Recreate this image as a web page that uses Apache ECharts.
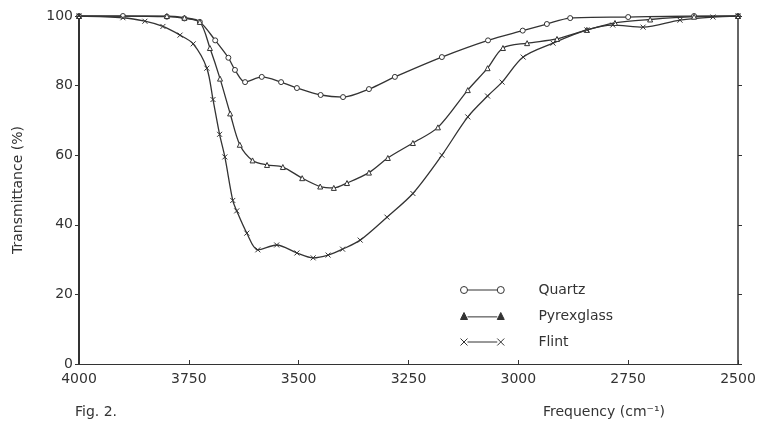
<!DOCTYPE html>
<html>
<head>
<meta charset="utf-8">
<style>
  html, body { margin: 0; padding: 0; background: #fff; }
  #main { width: 767px; height: 432px; }
</style>
<script src="https://cdn.jsdelivr.net/npm/echarts@6/dist/echarts.min.js"></script>
</head>
<body>
<div id="main"></div>
<script>
// frequency (cm-1), transmittance (%)
var quartz = [
  [4000, 100], [3900, 100], [3800, 99.8], [3760, 99.3], [3725, 98.3], [3690, 93],
  [3660, 88], [3645, 84.5], [3622, 81], [3584, 82.5], [3540, 81], [3504, 79.3],
  [3450, 77.3], [3399, 76.7], [3340, 79], [3281, 82.5], [3174, 88.2], [3069, 93],
  [2990, 95.8], [2935, 97.7], [2882, 99.4], [2750, 99.7], [2600, 100], [2500, 100]
];
var pyrex = [
  [4000, 100], [3800, 100], [3760, 99.5], [3725, 98.3], [3702, 90.8], [3679, 82],
  [3656, 72], [3634, 63], [3605, 58.5], [3572, 57.2], [3536, 56.6], [3492, 53.4],
  [3451, 51], [3420, 50.6], [3390, 52], [3340, 55], [3297, 59.2], [3240, 63.5],
  [3183, 68], [3115, 78.7], [3070, 85], [3035, 90.8], [2980, 92.2], [2912, 93.4],
  [2844, 96], [2780, 98], [2700, 99], [2600, 99.8], [2500, 100]
];
var flint = [
  [4000, 100], [3900, 99.5], [3850, 98.5], [3809, 97], [3770, 94.5], [3740, 92],
  [3709, 85], [3695, 76], [3680, 66], [3668, 59.5], [3650, 47], [3641, 44],
  [3618, 37.6], [3593, 32.8], [3550, 34.2], [3504, 31.9], [3467, 30.5], [3433, 31.3],
  [3400, 33], [3360, 35.6], [3299, 42.2], [3240, 49], [3174, 60], [3115, 71],
  [3070, 77], [3037, 81], [2989, 88.2], [2921, 92.2], [2844, 96], [2785, 97.4],
  [2716, 96.8], [2632, 98.8], [2557, 99.7], [2500, 100]
];
var seriesNames = ['Quartz', 'Pyrexglass', 'Flint'];

var ink = '#333';
var font = 'DejaVu Sans';
var xMark = 'path://M0,0L10,10M0,10L10,0';

var myChart = echarts.init(document.getElementById('main'));

function curve(name, data, symbol, fill) {
  return {
    name: name,
    type: 'line',
    smooth: 0.3,
    data: data,
    symbol: symbol,
    symbolSize: 5,
    showSymbol: true,
    showAllSymbol: true,
    lineStyle: { color: ink, width: 1.3, type: 'solid', opacity: 1 },
    itemStyle: { color: fill, borderColor: ink, borderWidth: 1, opacity: 1 },
    z: 3
  };
}

myChart.setOption({
  animation: false,
  aria: { enabled: false, decal: { show: false } },
  textStyle: { fontFamily: font },
  title: [{
    text: 'Fig. 2.',
    left: 70, top: 400,
    textStyle: { fontFamily: font, fontSize: 14, fontWeight: 'normal', color: ink }
  }, {
    text: 'Frequency (cm\u207B\u00B9)',
    left: 538, top: 400,
    textStyle: { fontFamily: font, fontSize: 14, fontWeight: 'normal', color: ink }
  }],
  grid: { left: 79, right: 29, top: 16, bottom: 68 },
  legend: {
    orient: 'vertical',
    left: 455, top: 277,
    itemWidth: 50, itemHeight: 7, itemGap: 10,
    textStyle: { fontFamily: font, fontSize: 14, color: ink, lineHeight: 16, padding: [0, 0, 0, 26] },
    data: [{
      name: 'Quartz',
      icon: 'path://M0,4A4,4,0,1,0,8,4A4,4,0,1,0,0,4Z M8,4L42,4 M42,4A4,4,0,1,0,50,4A4,4,0,1,0,42,4Z',
      itemStyle: { color: '#fff', borderColor: ink, borderWidth: 1 }
    }, {
      name: 'Pyrexglass',
      icon: 'path://M0,8L4,0L8,8Z M8,5L42,5 M42,8L46,0L50,8Z',
      itemStyle: { color: ink, borderColor: ink, borderWidth: 1 }
    }, {
      name: 'Flint',
      icon: 'path://M0,0L8,8M0,8L8,0 M8,4L42,4 M42,0L50,8M42,8L50,0',
      itemStyle: { color: '#fff', borderColor: ink, borderWidth: 1 }
    }]
  },
  xAxis: [{
    type: 'value',
    min: 2500, max: 4000, interval: 250,
    inverse: true,
    axisLine: { lineStyle: { color: ink, width: 1.2 } },
    axisTick: { inside: true, length: 4, lineStyle: { color: ink } },
    axisLabel: { color: ink, fontSize: 14, margin: 8, fontFamily: font, formatter: function (v) { return String(v); } },
    splitLine: { show: false }
  }, {
    type: 'value',
    position: 'top',
    min: 2500, max: 4000, interval: 250,
    inverse: true,
    axisLine: { show: true, lineStyle: { color: ink, width: 1 } },
    axisTick: { show: true, length: 4, lineStyle: { color: ink } },
    axisLabel: { show: false },
    splitLine: { show: false }
  }],
  yAxis: [{
    type: 'value',
    min: 0, max: 100, interval: 20,
    name: 'Transmittance (%)',
    nameLocation: 'middle',
    nameGap: 54,
    nameTextStyle: { color: ink, fontSize: 14, fontFamily: font },
    axisLine: { show: true, lineStyle: { color: ink, width: 2 } },
    axisTick: { show: true, length: 4, lineStyle: { color: ink } },
    axisLabel: { color: ink, fontSize: 14, margin: 6, fontFamily: font },
    splitLine: { show: false }
  }, {
    type: 'value',
    position: 'right',
    min: 0, max: 100, interval: 20,
    axisLine: { show: true, lineStyle: { color: ink, width: 1.5 } },
    axisTick: { show: true, length: 4, lineStyle: { color: ink } },
    axisLabel: { show: false },
    splitLine: { show: false }
  }],
  series: [
    curve(seriesNames[0], quartz, 'circle', '#fff'),
    curve(seriesNames[1], pyrex, 'triangle', '#fff'),
    curve(seriesNames[2], flint, xMark, '#fff')
  ]
});
</script>
</body>
</html>
